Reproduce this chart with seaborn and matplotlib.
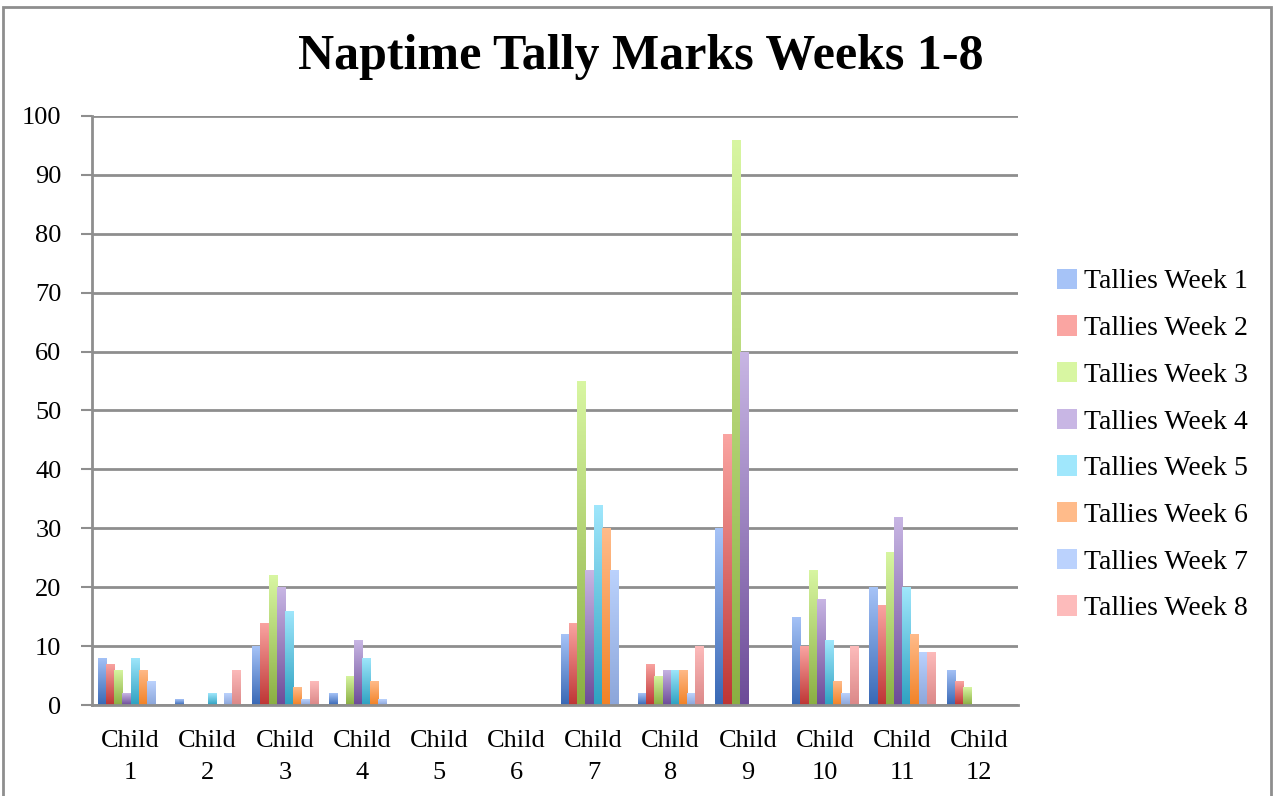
import numpy as np
import pandas as pd
import matplotlib
matplotlib.use("Agg")
import matplotlib.pyplot as plt
import seaborn as sns
from matplotlib.colors import LinearSegmentedColormap
from matplotlib.patches import Rectangle

children = ["Child\n1", "Child\n2", "Child\n3", "Child\n4", "Child\n5", "Child\n6",
            "Child\n7", "Child\n8", "Child\n9", "Child\n10", "Child\n11", "Child\n12"]
weeks = ["Tallies Week 1", "Tallies Week 2", "Tallies Week 3", "Tallies Week 4",
         "Tallies Week 5", "Tallies Week 6", "Tallies Week 7", "Tallies Week 8"]
week1 = [8, 1, 10, 2, 0, 0, 12, 2, 30, 15, 20, 6]
week2 = [7, 0, 14, 0, 0, 0, 14, 7, 46, 10, 17, 4]
week3 = [6, 0, 22, 5, 0, 0, 55, 5, 96, 23, 26, 3]
week4 = [2, 0, 20, 11, 0, 0, 23, 6, 60, 18, 32, 0]
week5 = [8, 2, 16, 8, 0, 0, 34, 6, 0, 11, 20, 0]
week6 = [6, 0, 3, 4, 0, 0, 30, 6, 0, 4, 12, 0]
week7 = [4, 2, 1, 1, 0, 0, 23, 2, 0, 2, 9, 0]
week8 = [0, 6, 4, 0, 0, 0, 0, 10, 0, 10, 9, 0]
series = [week1, week2, week3, week4, week5, week6, week7, week8]

# (top, bottom) gradient colours per week
grad = [("#A6C3F7", "#3868B5"), ("#FAA5A2", "#BE3534"), ("#D8F6A2", "#8AAE42"),
        ("#C8B6E4", "#6C4B98"), ("#A0E7FC", "#2EA1C1"), ("#FFBB8A", "#F28226"),
        ("#BBD2FD", "#8CA6DA"), ("#FDBBBB", "#DB8888")]

rows = []
for w, vals in zip(weeks, series):
    for c, v in zip(children, vals):
        rows.append({"Child": c, "Week": w, "Tallies": v})
df = pd.DataFrame(rows)

sns.set_theme(style="white")
plt.rcParams["font.family"] = ["Liberation Serif", "DejaVu Serif"]
plt.rcParams["text.color"] = "black"
plt.rcParams["xtick.color"] = "black"
plt.rcParams["ytick.color"] = "black"

fig = plt.figure(figsize=(12.76, 7.96), dpi=100)
ax = fig.add_axes([0.0721, 0.1143, 0.7257, 0.74])

palette = {w: g[0] for w, g in zip(weeks, grad)}
sns.barplot(data=df, x="Child", y="Tallies", hue="Week", order=children,
            hue_order=weeks, palette=palette, width=0.85, ax=ax, legend=False,
            linewidth=0, saturation=1)

ax.set_ylim(0, 100)
ax.set_xlim(-0.5, 11.5)
ylim = ax.get_ylim(); xlim = ax.get_xlim()

# gradient fill for each bar
g = np.linspace(0, 1, 256).reshape(-1, 1)
for cont, (top, bot) in zip(ax.containers, grad):
    cmap = LinearSegmentedColormap.from_list("g", [bot, top])
    for p in cont:
        h = p.get_height()
        if h <= 0:
            continue
        x0 = p.get_x(); w = p.get_width()
        im = ax.imshow(g, extent=[x0, x0 + w, 0, h], origin="lower", cmap=cmap,
                       aspect="auto", zorder=2, interpolation="bilinear")
        im.set_clip_path(p)
        p.set_facecolor("none")
ax.set_xlim(xlim); ax.set_ylim(ylim)
ax.set_aspect("auto")

ax.set_yticks(range(0, 101, 10))
ax.yaxis.grid(True, color="#8E8E8E", linewidth=2)
ax.set_axisbelow(True)
ax.set_xlabel(""); ax.set_ylabel("")
ax.set_xticks(np.arange(12))
ax.set_xticklabels(children, fontsize=19, linespacing=1.6)
ax.tick_params(axis="x", length=0, pad=18, colors="black")
ax.set_xticks(np.arange(-0.5, 12, 1), minor=True)
ax.tick_params(axis="x", which="minor", length=9, width=1.5, color="#8E8E8E", direction="out")
ax.tick_params(axis="y", labelsize=19, length=8, width=1.5, color="#8E8E8E",
               labelcolor="black", direction="out", left=True, pad=14)
for s in ["top", "right"]:
    ax.spines[s].set_visible(False)
for s in ["left", "bottom"]:
    ax.spines[s].set_color("#8E8E8E")
    ax.spines[s].set_linewidth(2)

fig.text(0.502, 0.928, "Naptime Tally Marks Weeks 1-8", ha="center", va="center",
         fontsize=36, fontweight="bold", color="black")

handles = [Rectangle((0, 0), 1, 1, facecolor=g_[0], edgecolor=g_[1], linewidth=0)
           for g_ in grad]
fig.legend(handles, weeks, loc="center left", bbox_to_anchor=(0.8085, 0.441),
           frameon=False, fontsize=20, handlelength=0.75, handleheight=0.75,
           handletextpad=0.25, labelspacing=0.75)

fig.patches.append(Rectangle((3 / 1276, -0.01), 1268 / 1276, 1 - 7 / 796 + 0.01,
                             transform=fig.transFigure, fill=False,
                             edgecolor="#8E8E8E", linewidth=2))

fig.savefig("out.png", dpi=100)
